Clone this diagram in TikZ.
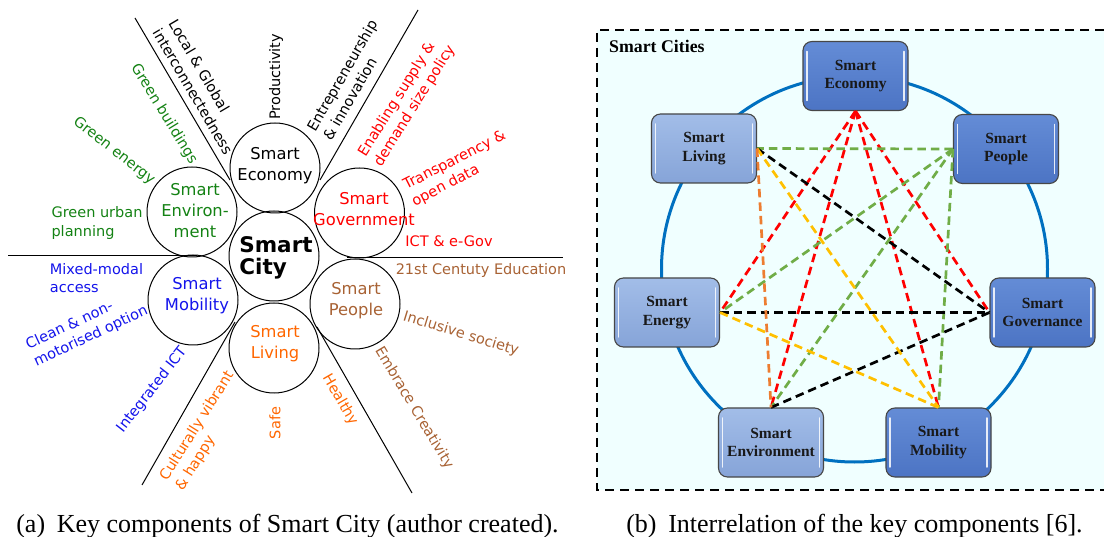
\documentclass[tikz,border=0pt]{standalone}
\usepackage{fontspec}
\setmainfont{DejaVu Sans}
\newfontfamily\serifface{Liberation Serif}

% component colours of the left wheel
\definecolor{ecoC}{RGB}{0,0,0}
\definecolor{govC}{RGB}{255,0,0}
\definecolor{peoC}{RGB}{168,98,52}
\definecolor{livC}{RGB}{255,102,0}
\definecolor{mobC}{RGB}{20,20,235}
\definecolor{envC}{RGB}{20,130,20}
% right diagram colours
\definecolor{panelC}{RGB}{240,255,255}
\definecolor{ringC}{RGB}{0,112,192}
\definecolor{darkTop}{RGB}{100,140,214}
\definecolor{darkBot}{RGB}{76,116,196}
\definecolor{lightTop}{RGB}{162,189,232}
\definecolor{lightBot}{RGB}{134,164,216}
\definecolor{linkRed}{RGB}{255,0,0}
\definecolor{linkGreen}{RGB}{112,173,71}
\definecolor{linkYellow}{RGB}{255,192,0}
\definecolor{linkOrange}{RGB}{237,125,49}

\begin{document}
\begin{tikzpicture}[x=1pt,y=-1pt,
  hub/.style={circle,draw,line width=1pt,minimum size=90pt,inner sep=0pt},
  hubtext/.style={align=center,inner sep=0pt,font=\fontsize{16.3}{21}\selectfont},
  tag/.style={inner sep=0pt,font=\fontsize{14.5}{18.5}\selectfont},
  sepline/.style={line width=1pt},
  comp/.style={rounded corners=9pt,draw=black!72,line width=1.1pt,
    minimum width=105pt,minimum height=69pt,align=center,
    font=\serifface\bfseries\fontsize{15.5}{18.5}\selectfont,text=black!90,
    path picture={
      \draw[white,line width=1.5pt,line cap=round,opacity=.85]
        ([xshift=4pt,yshift=-10pt]path picture bounding box.north west) --
        ([xshift=4pt,yshift=10pt]path picture bounding box.south west);
      \draw[white,line width=1.5pt,line cap=round,opacity=.85]
        ([xshift=-4pt,yshift=-10pt]path picture bounding box.north east) --
        ([xshift=-4pt,yshift=10pt]path picture bounding box.south east);}},
  darkcomp/.style={comp,top color=darkTop,bottom color=darkBot},
  lightcomp/.style={comp,top color=lightTop,bottom color=lightBot},
  link/.style={line width=2.7pt,dash pattern=on 8.5pt off 5pt},
  caption/.style={inner sep=0pt,font=\serifface\fontsize{26}{29}\selectfont}]

\useasboundingbox (0,0) rectangle (1104,537);

% ---------- (a) the Smart City wheel ----------
\node[hub] (city) at (274,256) {};
\node[hub] (eco) at (275,168) {};
\node[hub] (gov) at (359.5,213) {};
\node[hub] (peo) at (355,304) {};
\node[hub] (liv) at (274,348) {};
\node[hub] (mob) at (193,300) {};
\node[hub] (env) at (192,212) {};

\node[align=left,inner sep=0pt,font=\bfseries\fontsize{21.5}{22}\selectfont] (cityT) at (276,258) {Smart\\City};
\node[hubtext,text=ecoC] (ecoT) at (275,166) {Smart\\Economy};
\node[hubtext,text=govC] (govT) at (364,209) {Smart\\Government};
\node[hubtext,text=peoC] (peoT) at (356,301) {Smart\\People};
\node[hubtext,text=livC] (livT) at (275,344) {Smart\\Living};
\node[hubtext,text=mobC] (mobT) at (197,296) {Smart\\Mobility};
\node[hubtext,text=envC] (envT) at (195,211) {Smart\\Environ-\\ment};

% sector separators
\coordinate (sA1) at (135,18);  \coordinate (sA2) at (230,180);
\coordinate (sB1) at (418,10);  \coordinate (sB2) at (320,180);
\coordinate (sC1) at (347,258); \coordinate (sC2) at (563,258);
\coordinate (sD1) at (317,327); \coordinate (sD2) at (412,493);
\coordinate (sE1) at (235,322); \coordinate (sE2) at (142,485);
\coordinate (sF1) at (197,256); \coordinate (sF2) at (8,256);
\draw[sepline] (sA1) -- (sA2);
\draw[sepline] (sB1) -- (sB2);
\draw[sepline] (sC1) -- (sC2);
\draw[sepline] (sD1) -- (sD2);
\draw[sepline] (sE1) -- (sE2);
\draw[sepline] (sF1) -- (sF2);

% economy
\node[tag,text=ecoC,align=left,rotate=-59.5] (eLocal) at (201,87) {Local \& Global\\interconnectedness};
\node[tag,text=ecoC,rotate=90] (eProd) at (276,77) {Productivity};
\node[tag,text=ecoC,align=left,rotate=60] (eEntr) at (350,80) {Entrepreneurship\\\& innovation};
% government
\node[tag,text=govC,align=left,rotate=58] (gEnab) at (407,101) {Enabling supply \&\\demand size policy};
\node[tag,text=govC,align=left,rotate=27] (gTran) at (459,169) {Transparency \&\\open data};
\node[tag,text=govC] (gICT) at (449,241) {ICT \& e-Gov};
% people
\node[tag,text=peoC] (pEdu) at (481,271) {21st Centuty Education};
\node[tag,text=peoC,rotate=-17] (pIncl) at (461,334) {Inclusive society};
\node[tag,text=peoC,rotate=-59] (pCrea) at (414,408) {Embrace Creativity};
% living
\node[tag,text=livC,rotate=-60] (lHeal) at (340,400) {Healthy};
\node[tag,text=livC,rotate=90] (lSafe) at (275,423) {Safe};
\node[tag,text=livC,align=left,rotate=58] (lCult) at (205,431) {Culturally vibrant\\\& happy};
% mobility
\node[tag,text=mobC,rotate=52] (mICT) at (152,390) {Integrated ICT};
\node[tag,text=mobC,align=left,rotate=25] (mClean) at (87,328) {Clean \& non-\\motorised option};
\node[tag,text=mobC,align=left] (mMix) at (96.5,278) {Mixed-modal\\access};
% environment
\node[tag,text=envC,align=left] (nUrb) at (97,223) {Green urban\\planning};
\node[tag,text=envC,rotate=-38] (nEner) at (114,151) {Green energy};
\node[tag,text=envC,rotate=-58.5] (nBuil) at (164,114) {Green buildings};

% ---------- (b) interrelation of the components ----------
\fill[panelC] (597,30) rectangle (1104,490);
\draw[line width=2.2pt,dash pattern=on 9pt off 6pt] (1104,30) -- (597,30) -- (597,490) -- (1104,490);
\node[anchor=west,inner sep=0pt,font=\serifface\bfseries\fontsize{17.8}{20}\selectfont] (panelT) at (609,46) {Smart Cities};

\draw[ringC,line width=3pt] (854.5,269) circle[radius=193];

\node[darkcomp] (beco) at (855.5,76) {Smart\\Economy};
\node[lightcomp] (bliv) at (704,148.5) {Smart\\Living};
\node[darkcomp] (bpeo) at (1006,149) {Smart\\People};
\node[lightcomp] (bene) at (667,312.5) {Smart\\Energy};
\node[darkcomp] (bgov) at (1042.5,312.5) {Smart\\Governance};
\node[lightcomp] (benv) at (771,442.5) {Smart\\Environment};
\node[darkcomp] (bmob) at (938.5,442.5) {Smart\\Mobility};

\draw[link,linkRed] (beco.south) -- (bene.east);
\draw[link,linkRed] (beco.south) -- (benv.north);
\draw[link,linkRed] (beco.south) -- (bmob.north);
\draw[link,linkRed] (beco.south) -- (bgov.west);
\draw[link,linkGreen] (bpeo.west) -- (bliv.east);
\draw[link,linkGreen] (bpeo.west) -- (bene.east);
\draw[link,linkGreen] (bpeo.west) -- (benv.north);
\draw[link,linkGreen] (bpeo.west) -- (bmob.north);
\draw[link,black] (bliv.east) -- (bgov.west);
\draw[link,black] (bene.east) -- (bgov.west);
\draw[link,black] (benv.north) -- (bgov.west);
\draw[link,linkYellow] (bliv.east) -- (bmob.north);
\draw[link,linkYellow] (bene.east) -- (bmob.north);
\draw[link,linkOrange] (bliv.east) -- (benv.north);

% ---------- captions ----------
\node[caption,anchor=base] (capA) at (287.5,532) {(a)\hspace{0.45em}Key components of Smart City (author created).};
\node[caption,anchor=base] (capB) at (854.5,532) {(b)\hspace{0.45em}Interrelation of the key components [6].};
\end{tikzpicture}
\end{document}
